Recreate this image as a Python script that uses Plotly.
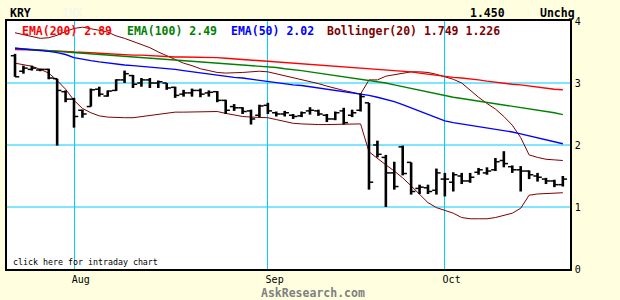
import plotly.graph_objects as go

# ---------------- data ----------------
month_labels = ["Aug", "Sep", "Oct"]
month_start_idx = [7, 30, 51]

opens = [3.44, 3.19, 3.22, 3.21, 3.22, 3.07, 2.86, 2.74, 2.56, 2.62,
         2.90, 2.79, 2.88, 3.05, 3.12, 3.00, 3.05, 3.00, 3.00, 2.93,
         2.82, 2.84, 2.88, 2.84, 2.86, 2.72, 2.62, 2.60, 2.55, 2.48,
         2.64, 2.52, 2.50, 2.48, 2.47, 2.55, 2.55, 2.48, 2.42, 2.55,
         2.48, 2.56, 2.68, 2.00, 1.80, 1.55, 1.97, 1.72, 1.30, 1.31,
         1.27, 1.45, 1.40, 1.50, 1.42, 1.56, 1.55, 1.60, 1.75, 1.65,
         1.60, 1.58, 1.50, 1.45, 1.42, 1.36]
highs = [3.47, 3.28, 3.28, 3.23, 3.23, 3.07, 2.88, 2.76, 2.57, 2.91,
         2.94, 2.88, 3.06, 3.20, 3.13, 3.08, 3.08, 3.04, 3.00, 2.94,
         2.89, 2.91, 2.91, 2.88, 2.87, 2.73, 2.66, 2.61, 2.57, 2.65,
         2.68, 2.54, 2.55, 2.50, 2.54, 2.61, 2.57, 2.50, 2.54, 2.60,
         2.57, 2.83, 2.68, 2.07, 1.84, 1.73, 1.99, 1.72, 1.36, 1.36,
         1.62, 1.55, 1.56, 1.55, 1.55, 1.63, 1.64, 1.79, 1.90, 1.67,
         1.66, 1.59, 1.55, 1.47, 1.44, 1.50]
lows = [3.10, 3.15, 3.20, 3.19, 3.06, 1.99, 2.69, 2.28, 2.44, 2.62,
        2.78, 2.78, 2.87, 3.00, 2.92, 2.94, 2.92, 2.92, 2.89, 2.76,
        2.78, 2.78, 2.77, 2.78, 2.69, 2.50, 2.55, 2.50, 2.33, 2.45,
        2.50, 2.46, 2.46, 2.42, 2.45, 2.49, 2.47, 2.37, 2.40, 2.33,
        2.45, 2.54, 1.28, 1.80, 1.00, 1.28, 1.51, 1.20, 1.21, 1.21,
        1.20, 1.17, 1.25, 1.37, 1.39, 1.52, 1.52, 1.58, 1.64, 1.55,
        1.25, 1.45, 1.41, 1.37, 1.32, 1.33]
closes = [3.10, 3.24, 3.24, 3.22, 3.08, 2.88, 2.74, 2.46, 2.50, 2.89,
          2.82, 2.87, 3.05, 3.15, 2.98, 3.05, 3.00, 3.02, 2.92, 2.80,
          2.84, 2.88, 2.82, 2.85, 2.72, 2.56, 2.60, 2.54, 2.42, 2.63,
          2.55, 2.50, 2.52, 2.46, 2.52, 2.56, 2.50, 2.42, 2.52, 2.36,
          2.52, 2.78, 1.40, 1.85, 1.55, 1.33, 1.54, 1.25, 1.32, 1.25,
          1.55, 1.45, 1.52, 1.42, 1.48, 1.60, 1.58, 1.73, 1.70, 1.60,
          1.58, 1.52, 1.48, 1.42, 1.36, 1.45]

ema200 = [3.54, 3.54, 3.53, 3.53, 3.52, 3.52, 3.51, 3.50, 3.50, 3.49,
          3.48, 3.47, 3.47, 3.46, 3.45, 3.45, 3.44, 3.43, 3.43, 3.42,
          3.42, 3.42, 3.41, 3.41, 3.41, 3.40, 3.39, 3.38, 3.37, 3.36,
          3.36, 3.35, 3.34, 3.33, 3.32, 3.31, 3.30, 3.29, 3.28, 3.27,
          3.26, 3.25, 3.24, 3.23, 3.22, 3.21, 3.19, 3.18, 3.16, 3.14,
          3.12, 3.10, 3.09, 3.08, 3.07, 3.05, 3.03, 3.01, 3.00, 2.98,
          2.97, 2.95, 2.94, 2.92, 2.90, 2.89]
ema100 = [3.56, 3.55, 3.54, 3.53, 3.53, 3.52, 3.51, 3.50, 3.49, 3.48,
          3.46, 3.45, 3.44, 3.43, 3.42, 3.41, 3.40, 3.39, 3.38, 3.37,
          3.36, 3.35, 3.34, 3.33, 3.32, 3.31, 3.30, 3.29, 3.28, 3.27,
          3.26, 3.25, 3.23, 3.22, 3.20, 3.18, 3.16, 3.14, 3.12, 3.10,
          3.08, 3.07, 3.05, 3.03, 3.00, 2.97, 2.94, 2.91, 2.88, 2.85,
          2.82, 2.79, 2.77, 2.75, 2.73, 2.71, 2.69, 2.67, 2.65, 2.63,
          2.61, 2.59, 2.57, 2.54, 2.52, 2.49]
ema50 = [3.56, 3.55, 3.54, 3.52, 3.51, 3.49, 3.46, 3.41, 3.38, 3.36,
         3.34, 3.32, 3.30, 3.29, 3.28, 3.27, 3.26, 3.25, 3.23, 3.22,
         3.20, 3.18, 3.16, 3.14, 3.13, 3.11, 3.09, 3.08, 3.06, 3.04,
         3.02, 3.01, 2.99, 2.97, 2.96, 2.94, 2.92, 2.91, 2.89, 2.87,
         2.85, 2.83, 2.80, 2.77, 2.74, 2.70, 2.65, 2.60, 2.55, 2.50,
         2.44, 2.39, 2.36, 2.34, 2.32, 2.30, 2.28, 2.26, 2.23, 2.21,
         2.18, 2.15, 2.12, 2.08, 2.05, 2.02]
boll_upper = [3.81, 3.78, 3.76, 3.72, 3.73, 3.77, 3.83, 3.88, 3.90, 3.88,
              3.85, 3.82, 3.76, 3.72, 3.67, 3.62, 3.57, 3.50, 3.44, 3.37,
              3.32, 3.28, 3.23, 3.20, 3.17, 3.16, 3.16, 3.17, 3.18, 3.19,
              3.18, 3.15, 3.12, 3.09, 3.06, 3.02, 2.99, 2.95, 2.91, 2.88,
              2.85, 2.82, 3.05, 3.05, 3.11, 3.13, 3.15, 3.18, 3.18, 3.17,
              3.14, 3.10, 3.06, 3.00, 2.88, 2.77, 2.67, 2.58, 2.46, 2.32,
              2.12, 1.84, 1.80, 1.77, 1.76, 1.75]
boll_lower = [3.32, 3.29, 3.27, 3.22, 3.16, 3.04, 2.90, 2.72, 2.59, 2.52,
              2.47, 2.45, 2.44, 2.44, 2.44, 2.46, 2.48, 2.50, 2.52, 2.53,
              2.53, 2.53, 2.53, 2.54, 2.54, 2.51, 2.48, 2.46, 2.45, 2.45,
              2.44, 2.41, 2.38, 2.35, 2.34, 2.33, 2.33, 2.33, 2.33, 2.34,
              2.34, 2.34, 1.89, 1.78, 1.68, 1.58, 1.47, 1.34, 1.20, 1.07,
              0.99, 0.94, 0.90, 0.83, 0.81, 0.81, 0.81, 0.83, 0.86, 0.90,
              0.98, 1.19, 1.21, 1.22, 1.23, 1.23]

y_ticks = [0, 1, 2, 3, 4]

# ---------------- figure ----------------
W, H = 620, 300
L, R, T, B = 5, 50, 21, 31
GRID = "#00CCFF"
BG = "#FFFFE0"
MONO = "DejaVu Sans Mono"

idx = list(range(len(closes)))

fig = go.Figure()

# horizontal grid lines at the inner value ticks
for v in y_ticks[1:-1]:
    fig.add_shape(type="line", xref="paper", x0=0, x1=1, yref="y", y0=v, y1=v,
                  line=dict(color=GRID, width=1), layer="below")

# indicator lines
for vals, col, wid in [(boll_upper, "#800000", 1), (boll_lower, "#800000", 1),
                       (ema200, "#FF0000", 1.4), (ema100, "#008000", 1.4),
                       (ema50, "#0000FF", 1.4)]:
    fig.add_trace(go.Scatter(x=idx, y=vals, mode="lines",
                             line=dict(color=col, width=wid, shape="linear"),
                             hoverinfo="skip", showlegend=False))

# OHLC bars: vertical ranges
bx, by = [], []
for i, (h, l) in enumerate(zip(highs, lows)):
    bx += [i, i, None]
    by += [l, h, None]
fig.add_trace(go.Scatter(x=bx, y=by, mode="lines",
                         line=dict(color="black", width=2.6),
                         hoverinfo="skip", showlegend=False))
# open / close ticks
tx, ty = [], []
for i, (o, c) in enumerate(zip(opens, closes)):
    tx += [i - 0.5, i, None, i, i + 0.5, None]
    ty += [o, o, None, c, c, None]
fig.add_trace(go.Scatter(x=tx, y=ty, mode="lines",
                         line=dict(color="black", width=1.5),
                         hoverinfo="skip", showlegend=False))

pw = W - L - R
ph = H - T - B


def px(xp):
    return (xp - L) / pw


def py(yp):
    return (H - B - yp) / ph


def txt(x, y, s, color="black", size=11.5, bold=True, anchor="left"):
    fig.add_annotation(x=px(x), y=py(y), xref="paper", yref="paper",
                       text=("<b>%s</b>" % s) if bold else s, showarrow=False,
                       xanchor=anchor, yanchor="middle",
                       font=dict(family=MONO, size=size, color=color))


# header
txt(6, 12.5, "KRY")
txt(58, 12.5, "INX", color="#F6F6EC")
txt(468, 12.5, "1.450")
txt(538, 12.5, "Unchg")

# indicator legend
txt(18, 31, "EMA(200) 2.89", color="#FF0000")
txt(123, 31, "EMA(100) 2.49", color="#008000")
txt(228, 31, "EMA(50) 2.02", color="#0000FF")
txt(324, 31, "Bollinger(20) 1.749 1.226", color="#800000")

# small text
txt(9, 262, "click here for intraday chart", size=8.3, bold=False)
txt(312, 293, "AskResearch.com", color="#808080", anchor="center")

fig.update_layout(
    width=W, height=H,
    margin=dict(l=L, r=R, t=T, b=B, pad=0),
    paper_bgcolor=BG, plot_bgcolor="white",
    showlegend=False,
    xaxis=dict(range=[-0.95, 65.85], tickvals=month_start_idx,
               ticktext=month_labels, showgrid=True, gridcolor=GRID,
               gridwidth=1, zeroline=False, showline=True, linecolor="black",
               linewidth=1.5, mirror=True, ticks="",
               ticklabelposition="outside right", ticklabelshift=-3,
               tickfont=dict(family=MONO, size=10, color="black"),
               fixedrange=True),
    yaxis=dict(range=[0, 4], side="right", tickvals=y_ticks,
               showgrid=False, zeroline=False,
               showline=True, linecolor="black", linewidth=1.5, mirror=True,
               ticks="", ticklabelstandoff=1,
               tickfont=dict(family=MONO, size=10, color="black"),
               fixedrange=True),
)

fig.write_html("out.html")
